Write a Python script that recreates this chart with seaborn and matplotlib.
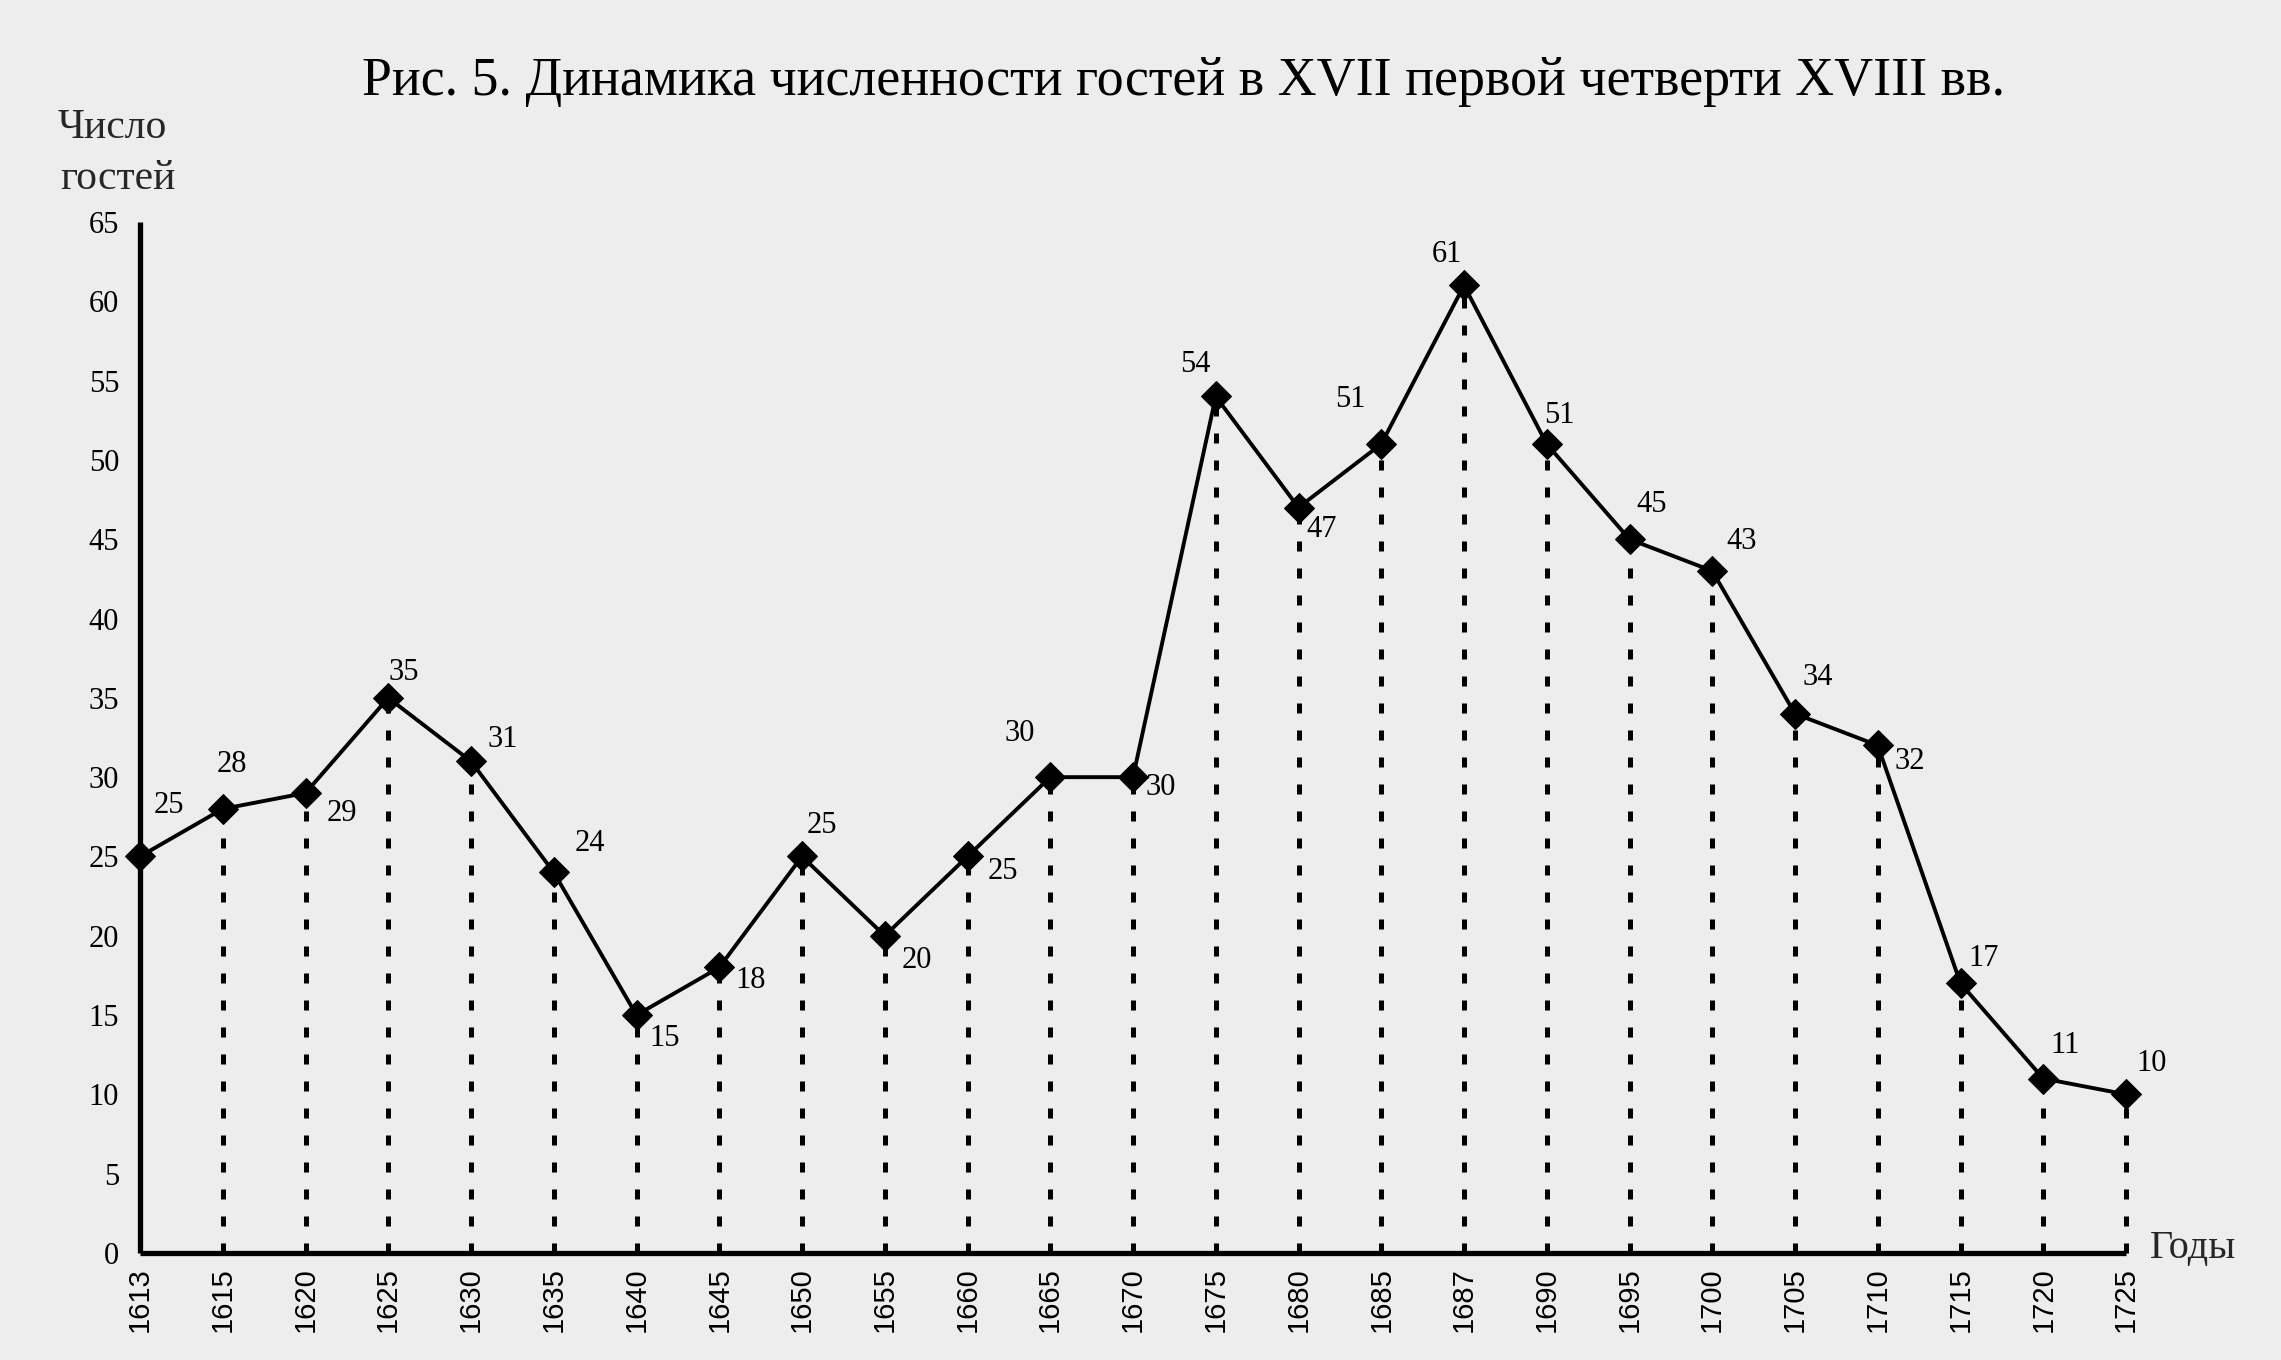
import matplotlib
matplotlib.use("Agg")
import matplotlib.pyplot as plt
import seaborn as sns
import numpy as np
import pandas as pd

# ---- data ----
years = ["1613", "1615", "1620", "1625", "1630", "1635", "1640", "1645", "1650",
         "1655", "1660", "1665", "1670", "1675", "1680", "1685", "1687", "1690",
         "1695", "1700", "1705", "1710", "1715", "1720", "1725"]
guests = [25, 28, 29, 35, 31, 24, 15, 18, 25, 20, 25, 30, 30, 54, 47, 51, 61, 51,
          45, 43, 34, 32, 17, 11, 10]
y_ticks = [0, 5, 10, 15, 20, 25, 30, 35, 40, 45, 50, 55, 60, 65]

title = "Рис. 5. Динамика численности гостей в XVII первой четверти XVIII вв."
x_label = "Годы"

# label offsets in pixels (style/placement only)
label_dx = [29, 9, 36, 16, 32, 36, 28, 31, 20, 32, 35, -31, 28, -20, 23, -31, -17,
            13, 22, 29, 23, 32, 23, 22, 26]
label_dy = [-51, -44, 20, -25, -22, -29, 23, 13, -31, 25, 15, -44, 10, -32, 22, -45,
            -31, -29, -35, -29, -36, 16, -25, -33, -31]

df = pd.DataFrame({"pos": np.arange(len(years)), "guests": guests})

sns.set_theme(style="white")
plt.rcParams["font.family"] = ["Liberation Serif", "DejaVu Serif"]

bg = "#ededed"
fig = plt.figure(figsize=(22.81, 13.60), dpi=100, facecolor=bg)
ax = fig.add_axes([140 / 2281, 1 - 1253 / 1360, (2126 - 140) / 2281, (1253 - 222) / 1360])
ax.set_facecolor(bg)

# dotted drop lines
ax.vlines(df["pos"][1:], 0, df["guests"][1:], colors="black", linewidth=3.6,
          linestyles=(0, (2.0, 3.4)), zorder=1, clip_on=False)

sns.lineplot(data=df, x="pos", y="guests", ax=ax, color="black", linewidth=2.8,
             marker="D", markersize=15, markeredgecolor="black", markerfacecolor="black",
             zorder=3, clip_on=False)

ax.set_xlim(0, len(years) - 1)
ax.set_ylim(0, 65)
ax.set_xticks(df["pos"])
ax.set_xticklabels(years, rotation=90)
ax.set_yticks(y_ticks)
ax.set_yticklabels([str(v) for v in y_ticks])
ax.set_xlabel("")
ax.set_ylabel("")

for s in ["top", "right"]:
    ax.spines[s].set_visible(False)
for s in ["left", "bottom"]:
    ax.spines[s].set_linewidth(3.8)
    ax.spines[s].set_color("black")
    ax.spines[s].set_capstyle("butt")

ax.tick_params(axis="x", direction="inout", length=10, width=3.2, pad=5, colors="black",
               labelsize=21, labelfontfamily="Liberation Sans", labelrotation=90)
ax.tick_params(axis="y", direction="out", length=7, width=3.0, pad=8, colors="black",
               labelsize=22, labelfontfamily="Liberation Serif")
ax.grid(False)

# data labels
for i, (p, v) in enumerate(zip(df["pos"], df["guests"])):
    ax.annotate(str(v), (p, v), xytext=(label_dx[i], -label_dy[i]),
                textcoords="offset pixels", ha="center", va="center",
                fontsize=22, color="black", zorder=4, annotation_clip=False)

fig.text(362 / 2281, 1 - 95 / 1360, title, fontsize=38.8, ha="left", va="baseline",
         color="black")
fig.text(58 / 2281, 1 - 138 / 1360, "Число", fontsize=30, ha="left", va="baseline")
fig.text(60 / 2281, 1 - 189 / 1360, "гостей", fontsize=30, ha="left", va="baseline")
fig.text(2150 / 2281, 1 - 1258 / 1360, x_label, fontsize=29, ha="left", va="baseline")

fig.savefig("out.png", dpi=100, facecolor=bg)
